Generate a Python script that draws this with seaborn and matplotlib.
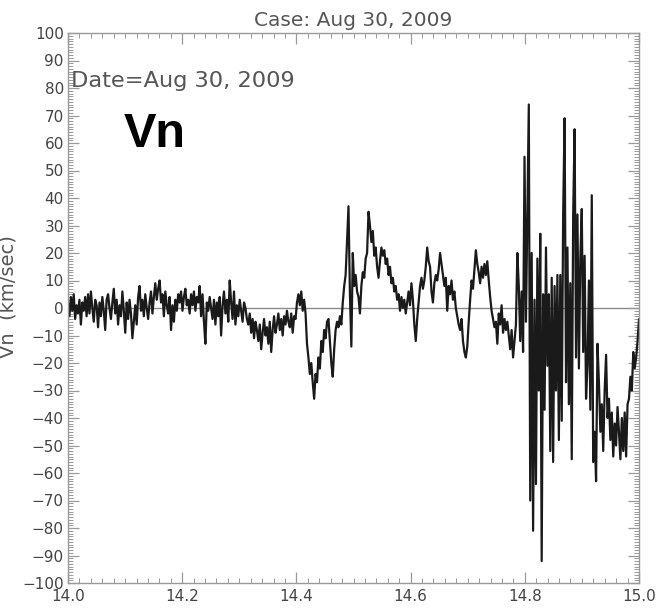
import numpy as np
import pandas as pd
import matplotlib
matplotlib.use("Agg")
import matplotlib.pyplot as plt
import seaborn as sns
from matplotlib.ticker import MultipleLocator

# Vn values (km/sec), evenly sampled from 14.0 to 15.0 (hours)
vn = [
    2, -3, 4, -1, 5, -4, 1,
    -2, 3, -6, 2, -1, 4, -3,
    5, -2, 6, 0, -5, 3, 1,
    -7, 2, -3, 4, -1, -8, 3,
    5, 0, -4, 2, 7, -2, 3,
    -6, 1, -3, 6, -1, -9, 2,
    -4, 3, -2, -11, -5, 1, -6,
    4, 8, -1, 3, -3, 5, 0,
    -4, 2, 6, -2, 4, 9, 3,
    7, 10, 2, 5, -3, 6, 1,
    -2, 4, -8, 1, -5, 3, -1,
    5, 2, 6, -1, 4, 7, 1,
    3, -2, 5, 1, 6, -1, 4,
    2, 8, -3, 5, -5, -13, 2,
    -1, 4, 0, -4, 3, -6, 2,
    -3, 4, -10, 1, 6, -2, 3,
    -5, 10, 2, -4, 6, -6, 1,
    -3, 3, -1, -5, 2, 0, -4,
    -6, -2, -9, -4, -11, -5, -8,
    -12, -6, -15, -9, -4, -10, -7,
    -13, -5, -16, -8, -3, -9, -6,
    -2, -8, -4, -10, -3, -6, -1,
    -5, -7, -2, -9, -3, -4, 2,
    5, 1, 6, -1, 3, -2, -13,
    -18, -24, -20, -27, -33, -24, -27,
    -18, -22, -12, -16, -8, -11, -5,
    -4, -12, -20, -25, -15, -8, -5,
    -7, -3, -6, 2, 8, 12, 25,
    37, 5, -14, 20, 8, 12, 6,
    4, -2, 8, 13, 11, 18, 20,
    35, 30, 24, 28, 19, 22, 15,
    11, 17, 22, 19, 21, 16, 18,
    12, 15, 9, 11, 6, 8, 3,
    5, -1, 4, 0, 3, -2, 2,
    6, 1, 9, 3, -6, -12, -4,
    2, 8, 11, 7, 10, 15, 22,
    17, 15, 6, 2, 9, 12, 10,
    14, 20, 16, 12, 8, 11, -1,
    8, 5, 10, 3, 6, 0, -3,
    -6, -8, -4, -12, -16, -18, -14,
    -5, 3, 10, 7, 14, 21, 16,
    13, 9, 15, 11, 16, 12, 17,
    10, 4, -1, -4, -7, -5, -13,
    -2, -6, 1, -9, -4, -8, -5,
    -10, -15, -8, -18, -12, -6, 20,
    8, -12, 6, -16, 55, -5, 34,
    74, -70, 20, -81, 3, -64, 18,
    -30, 27, -92, 5, -37, 22, -21,
    5, -52, 11, -56, 8, -30, 12,
    -48, 12, -41, 34, 69, -27, 22,
    -35, 9, -55, 34, 65, -18, 34,
    -22, 18, 36, -16, 19, -33, -21,
    10, -37, 41, -56, -45, -63, -13,
    -27, -45, -35, -52, -30, -17, -40,
    -33, -48, -38, -54, -42, -50, -36,
    -45, -55, -40, -52, -38, -54, -35,
    -33, -25, -30, -16, -22, -18, -12,
    -4,
]
time = np.linspace(14.0, 15.0, len(vn))
df = pd.DataFrame({"time": time, "vn": vn})

x_ticks = [14.0, 14.2, 14.4, 14.6, 14.8, 15.0]
y_ticks = list(range(-100, 101, 10))

sns.set_style("white")
plt.rcParams["font.family"] = ["DejaVu Sans"]

fig = plt.figure(figsize=(6.58, 6.10), dpi=100)
ax = fig.add_axes([68 / 658, 27 / 610, 571 / 658, 550 / 610])

sns.lineplot(data=df, x="time", y="vn", ax=ax, color="#1a1a1a",
             linewidth=1.6, estimator=None, sort=False)
ax.axhline(0, color="#8a8a8a", linewidth=1.0, zorder=0)

ax.set_xlim(14.0, 15.0)
ax.set_ylim(-100, 100)
ax.set_xticks(x_ticks)
ax.set_xticklabels([f"{v:.1f}" for v in x_ticks])
ax.set_yticks(y_ticks)
ax.set_yticklabels([f"{v:d}".replace("-", "\u2212") for v in y_ticks])
ax.xaxis.set_minor_locator(MultipleLocator(0.02))
ax.yaxis.set_minor_locator(MultipleLocator(1))

gray = "#9a9a9a"
for s in ax.spines.values():
    s.set_color(gray)
    s.set_linewidth(1.0)
ax.tick_params(axis="both", which="major", direction="in", length=8,
               width=0.9, color=gray, labelsize=11, labelcolor="#444444",
               top=True, right=True, bottom=True, left=True)
ax.tick_params(axis="both", which="minor", direction="in", length=3.8,
               width=0.7, color=gray, top=True, right=True,
               bottom=True, left=True)
ax.tick_params(axis="x", which="major", pad=4)
ax.tick_params(axis="y", which="major", pad=3)

ax.set_xlabel("")
ax.set_ylabel("Vn  (km/sec)", fontsize=14, color="#555555")
ax.yaxis.set_label_coords(-0.088, 0.52)
ax.set_title("Case: Aug 30, 2009", fontsize=14.5, color="#555555", pad=5)

ax.text(14.005, 80.4, "Date=Aug 30, 2009", fontsize=16.2, color="#555555",
        ha="left", va="baseline")
ax.text(14.098, 58.5, "Vn", fontsize=35, fontweight="bold",
        family=["Liberation Sans"], color="black", ha="left", va="baseline")

fig.savefig("out.png", dpi=100, facecolor="white")
